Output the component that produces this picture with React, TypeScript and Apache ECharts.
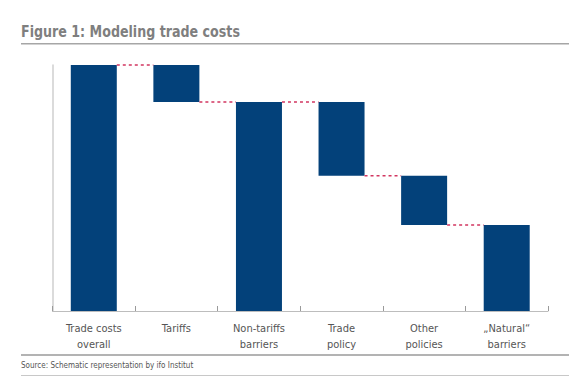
import React, { useEffect, useRef } from "react";
import * as echarts from "echarts";

const categories = [
  "Trade costs\noverall",
  "Tariffs",
  "Non-tariffs\nbarriers",
  "Trade\npolicy",
  "Other\npolicies",
  "„Natural“\nbarriers",
];
const baseValues = [0, 85, 0, 55, 35, 0];
const barValues = [100, 15, 85, 30, 20, 35];
const connectorLevels = [100, 85, 85, 55, 35];

const FONT = "'Liberation Sans Narrow', 'DejaVu Sans Condensed', 'Liberation Sans', sans-serif";
const BAR_W = 46;

export default function App() {
  const ref = useRef<HTMLDivElement>(null);
  useEffect(() => {
    if (!ref.current) return;
    const chart = echarts.init(ref.current, undefined, { renderer: "svg" });
    const connectorData = connectorLevels.map((v, i) => [i, v]);
    chart.setOption({
      animation: false,
      backgroundColor: "#ffffff",
      graphic: [
        {
          type: "text",
          x: 21,
          y: 32,
          scaleX: 0.88,
          style: {
            text: "Figure 1: Modeling trade costs",
            fontSize: 16,
            fontWeight: "bold",
            fill: "#7f7f7f",
            fontFamily: FONT,
            textVerticalAlign: "middle",
          },
        },
        { type: "rect", shape: { x: 21, y: 43, width: 548, height: 1.5 }, style: { fill: "#a6a6a6" } },
        { type: "rect", shape: { x: 21, y: 354, width: 548, height: 2 }, style: { fill: "#b3b3b3" } },
        { type: "rect", shape: { x: 21, y: 375, width: 548, height: 1 }, style: { fill: "#c8c8c8" } },
        {
          type: "text",
          x: 21,
          y: 365,
          style: {
            text: "Source: Schematic representation by ifo Institut",
            fontSize: 8,
            fill: "#555555",
            fontFamily: FONT,
            textVerticalAlign: "middle",
          },
        },
      ],
      grid: { left: 52.5, right: 21, top: 65, bottom: 66 },
      xAxis: {
        type: "category",
        data: categories,
        axisLine: { lineStyle: { color: "#bdbdbd", width: 1 } },
        axisTick: { show: true, inside: true, length: 5, lineStyle: { color: "#9a9a9a" } },
        axisLabel: {
          color: "#555555",
          fontSize: 11,
          lineHeight: 16,
          margin: 9,
          fontFamily: FONT,
          interval: 0,
        },
      },
      yAxis: {
        type: "value",
        min: 0,
        max: 100,
        axisLine: { show: true, lineStyle: { color: "#cfcfcf", width: 1.5 } },
        axisTick: { show: false },
        axisLabel: { show: false },
        splitLine: { show: false },
      },
      series: [
        {
          type: "bar",
          stack: "w",
          data: baseValues,
          barWidth: BAR_W,
          itemStyle: { color: "transparent" },
          silent: true,
        },
        {
          type: "bar",
          stack: "w",
          data: barValues,
          barWidth: BAR_W,
          itemStyle: { color: "#03417a" },
        },
        {
          type: "custom",
          data: connectorData,
          renderItem: (params: any, api: any) => {
            const p = api.coord([api.value(0), api.value(1)]);
            const bw = api.size([1, 0])[0];
            return {
              type: "line",
              shape: { x1: p[0] + BAR_W / 2, y1: p[1], x2: p[0] + bw - BAR_W / 2, y2: p[1] },
              style: { stroke: "#d23660", lineWidth: 1.5, lineDash: [3, 3] },
            };
          },
          z: 5,
        },
      ],
    });
    return () => chart.dispose();
  }, []);
  return (
    <div
      ref={ref}
      style={{ position: "fixed", left: 0, top: 0, width: 569, height: 377 }}
    />
  );
}
